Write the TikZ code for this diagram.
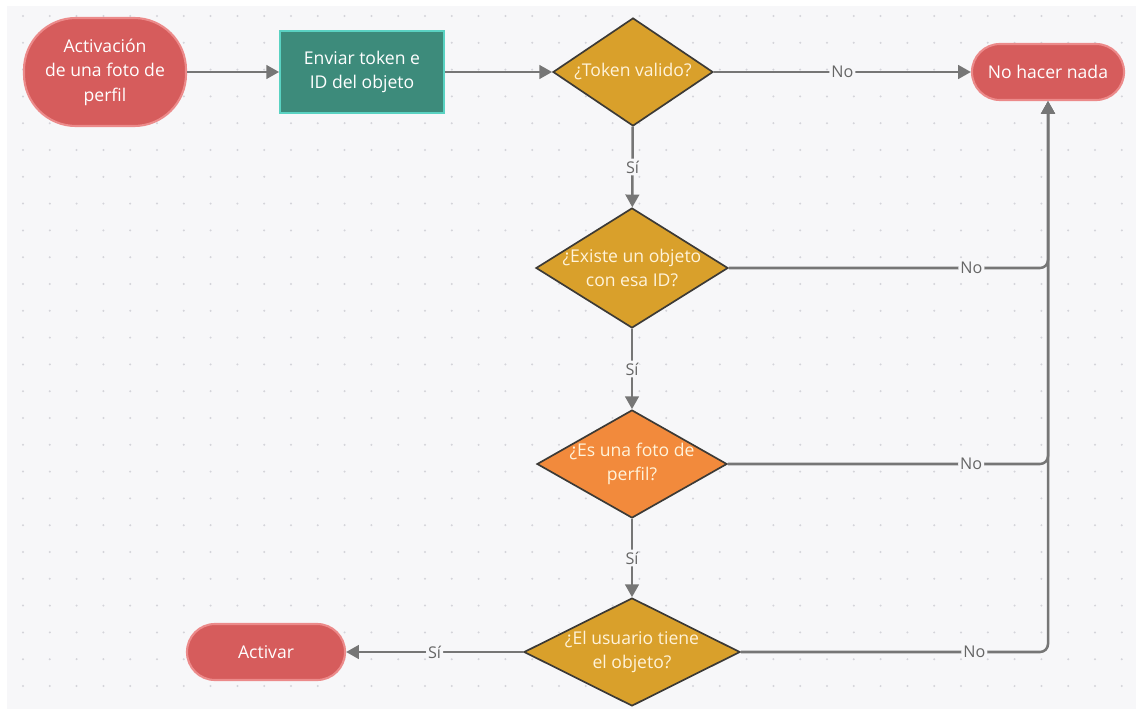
\documentclass[tikz,border=0pt]{standalone}
\usepackage{fontspec}
\setmainfont{Open Sans}
\usetikzlibrary{arrows.meta, shapes.geometric, positioning}

\definecolor{fondo}{HTML}{F7F7F9}
\definecolor{puntos}{HTML}{D4D4DA}
\definecolor{rojo}{HTML}{D65C5C}
\definecolor{rojoborde}{HTML}{EC8A8A}
\definecolor{verde}{HTML}{3D8B7B}
\definecolor{verdeborde}{HTML}{5AD2C2}
\definecolor{oro}{HTML}{D9A02B}
\definecolor{naranja}{HTML}{F28A3C}
\definecolor{bordeosc}{HTML}{3C3A36}
\definecolor{crema}{HTML}{FFF3DA}
\definecolor{linea}{HTML}{767676}
\definecolor{etiqueta}{HTML}{666666}

\tikzset{
  texto/.style={font=\fontsize{12.5}{17.5}\selectfont, align=center},
  terminal/.style={texto, draw=rojoborde, fill=rojo, text=white, line width=1.5pt,
    rounded corners=0.7cm, minimum width=3.9cm, minimum height=1.4cm},
  proceso/.style={texto, draw=verdeborde, fill=verde, text=white, line width=1.2pt,
    minimum width=4.1cm, minimum height=2.05cm},
  decision/.style={diamond, draw=bordeosc, fill=oro, line width=1.2pt, inner sep=0pt,
    minimum width=4cm, minimum height=2.7cm},
  dtexto/.style={texto, text=crema},
  conector/.style={draw=linea, line width=1.8pt, rounded corners=0.2cm,
    -{Triangle[length=3.2mm, width=3.4mm]}},
  etiq/.style={font=\fontsize{11.5}{14}\selectfont, text=etiqueta, fill=fondo,
    inner sep=1.5pt}
}

\begin{document}
\begin{tikzpicture}[x=0.025cm, y=-0.025cm]
% fondo con rejilla de puntos
\useasboundingbox (0,0) rectangle (1136,709);
\fill[white] (0,0) rectangle (1136,709);
\fill[fondo] (7,6) rectangle (1136,709);
\foreach \i in {0,...,41}
  \foreach \j in {0,...,25}
    \fill[puntos] (23+26.8*\i, 16+26.8*\j) circle (0.028cm);

% nodos
\node[terminal, rounded corners=1.3cm, minimum width=4.05cm, minimum height=2.7cm] (inicio) at (105,72)
  {Activación\\de una foto de\\perfil};
\node[proceso] (envio) at (362,72) {Enviar token e\\ID del objeto};
\node[decision, label={[dtexto]center:¿Token valido?}] (token) at (633,72) {};
\node[terminal, minimum width=3.8cm] (nada) at (1048,72) {No hacer nada};
\node[decision, minimum width=4.8cm, minimum height=3cm,
  label={[dtexto]center:¿Existe un objeto\\con esa ID?}] (existe) at (632,268) {};
\node[decision, fill=naranja, minimum width=4.75cm,
  label={[dtexto]center:¿Es una foto de\\perfil?}] (foto) at (632,464) {};
\node[decision, minimum width=5.4cm,
  label={[dtexto]center:¿El usuario tiene\\el objeto?}] (usuario) at (632,652) {};
\node[terminal, minimum width=3.95cm] (activar) at (266,652) {Activar};

% conectores
\draw[conector] (inicio) -- (envio);
\draw[conector] (envio) -- (token);
\draw[conector] (token) -- node[etiq] {No} (nada);
\draw[conector] (token) -- node[etiq] {Sí} (existe);
\draw[conector] (existe) -- node[etiq] {Sí} (foto);
\draw[conector] (foto) -- node[etiq] {Sí} (usuario);
\draw[conector] (usuario) -- node[etiq] {Sí} (activar);
\draw[conector] (existe.east) -| node[etiq, pos=0.38] {No} (nada.south);
\draw[conector] (foto.east) -| node[etiq, pos=0.38] {No} (nada.south);
\draw[conector] (usuario.east) -| node[etiq, pos=0.38] {No} (nada.south);
\end{tikzpicture}
\end{document}
